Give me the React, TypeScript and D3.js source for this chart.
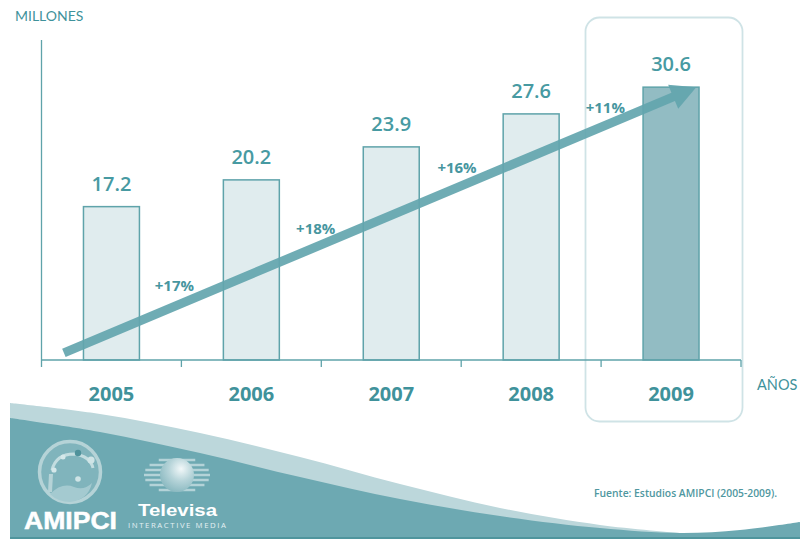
import React from "react";
import * as d3 from "d3";

const years = ["2005", "2006", "2007", "2008", "2009"];
const audience = [17.2, 20.2, 23.9, 27.6, 30.6];
const growthLabels = ["+17%", "+18%", "+16%", "+11%"];
const growthYears = [2005.45, 2006.46, 2007.47, 2008.53];
const growthLevels = [8.3, 14.8, 21.6, 28.3];
const trendYears = [2004.66, 2009.18];
const trendLevels = [0.8, 30.6];
const highlighted = "2009";

const TEAL = "#3f929b";
const AXIS = "#5fa3aa";
const BAND_DARK = "#6da9b2";
const BAND_LIGHT = "#bcd7db";

const width = 800;
const height = 539;

const x = d3.scaleBand<string>().domain(years).range([41.5, 741]).paddingInner(0.6).paddingOuter(0.3);
const tickStep = x.step();
const y = d3.scaleLinear().domain([0, 36]).range([360, 39]);
const yearX = d3.scaleLinear().domain([2005, 2009]).range([
  (x("2005") ?? 0) + x.bandwidth() / 2,
  (x("2009") ?? 0) + x.bandwidth() / 2,
]);

// Footer swoosh outlines.
const wave = d3.line<[number, number]>().curve(d3.curveCatmullRom.alpha(0.5));
const lightEdge: [number, number][] = [[10, 403], [100, 414], [200, 433], [300, 457], [400, 484], [500, 508], [600, 525], [680, 533]];
const darkEdge: [number, number][] = [[10, 418], [100, 432], [200, 453], [300, 477], [400, 499], [500, 516], [600, 528], [680, 533], [740, 530], [800, 522]];
const lightPath = `${wave(lightEdge)}L680,538L10,538Z`;
const darkPath = `${wave(darkEdge)}L800,538L10,538Z`;

const sans = "'Open Sans', sans-serif";

// Arrow drawn as one polygon along the trend between its two end points.
function trendArrow() {
  const x0 = yearX(trendYears[0]);
  const y0 = y(trendLevels[0]);
  const x1 = yearX(trendYears[1]);
  const y1 = y(trendLevels[1]);
  const len = Math.hypot(x1 - x0, y1 - y0);
  const ux = (x1 - x0) / len;
  const uy = (y1 - y0) / len;
  const nx = -uy;
  const ny = ux;
  const half = 4.5;
  const headLen = 25;
  const headHalf = 13;
  const bx = x1 - ux * headLen;
  const by = y1 - uy * headLen;
  const pts: [number, number][] = [
    [x0 + nx * half, y0 + ny * half],
    [bx + nx * half, by + ny * half],
    [bx + nx * headHalf, by + ny * headHalf],
    [x1, y1],
    [bx - nx * headHalf, by - ny * headHalf],
    [bx - nx * half, by - ny * half],
    [x0 - nx * half, y0 - ny * half],
  ];
  return pts.map((p) => p.join(",")).join(" ");
}

const stripeOffsets = d3.range(-15, 16, 5);

function AmipciLogo() {
  return (
    <g>
      <circle cx={70} cy={472} r={30.5} fill="#80b4bc" stroke="#b5d3d7" strokeWidth={3.5} />
      <path d="M50,494 Q62,482 74,487 Q84,491 92,483 Q88,500 70,502 Q58,502 50,494Z" fill="#a4cad0" />
      <path d="M52,470 Q56,454 74,454 Q90,456 93,468" fill="none" stroke="#c3dde0" strokeWidth={3} />
      <path d="M51,474 L50,492" stroke="#b5d3d7" strokeWidth={4} fill="none" />
      <circle cx={63} cy={457} r={2.5} fill="#d5e8ea" />
      <circle cx={78} cy={453} r={3.2} fill="#4f929b" />
      <circle cx={91} cy={460} r={3.6} fill="#cfe4e6" />
      <circle cx={54} cy={470} r={2.6} fill="#d5e8ea" />
      <circle cx={78} cy={479} r={2.8} fill="#cfe4e6" />
      <text x={24} y={529} fontFamily="'Liberation Sans', sans-serif" fontWeight={700} fontSize={24.5} fill="#fff" stroke="#fff" strokeWidth={0.5} textLength={93} lengthAdjust="spacingAndGlyphs">
        AMIPCI
      </text>
    </g>
  );
}

function TelevisaLogo() {
  return (
    <g>
      {stripeOffsets.map((d) => (
        <line
          key={d}
          x1={177 - 33 * Math.sqrt(1 - (d / 18) ** 2)}
          x2={177 + 33 * Math.sqrt(1 - (d / 18) ** 2)}
          y1={475 + d}
          y2={475 + d}
          stroke="#b4d3d8"
          strokeWidth={2.6}
        />
      ))}
      <circle cx={177} cy={475} r={17} fill="url(#globe)" />
      <text x={138} y={516} fontFamily="'Liberation Sans', sans-serif" fontWeight={700} fontSize={17} fill="#fff" textLength={79} lengthAdjust="spacingAndGlyphs">
        Televisa
      </text>
      <text x={128} y={528} fontFamily={sans} fontSize={7.8} fill="#e4f0f2" textLength={98} lengthAdjust="spacing">
        INTERACTIVE MEDIA
      </text>
    </g>
  );
}

export default function App() {
  return (
    <svg
      width={width}
      height={height}
      viewBox={`0 0 ${width} ${height}`}
      style={{ position: "absolute", left: 0, top: 0, display: "block", background: "#fff" }}
    >
      <defs>
        <radialGradient id="globe" cx="0.62" cy="0.32" r="0.8">
          <stop offset="0" stopColor="#f2f8f9" />
          <stop offset="0.45" stopColor="#b6d4d9" />
          <stop offset="1" stopColor="#7fb2ba" />
        </radialGradient>
      </defs>

      <text x={15} y={21} fontFamily="Lato, sans-serif" fontSize={14} fill={TEAL}>MILLONES</text>
      <text x={757} y={390} fontFamily="Lato, sans-serif" fontSize={14.5} fill={TEAL}>AÑOS</text>

      <rect x={585.5} y={17.5} width={157} height={404} rx={14} fill="#fff" stroke="#cfe3e6" strokeWidth={1.8} />

      {years.map((yr, i) => (
        <g key={yr}>
          <rect
            x={x(yr)}
            y={y(audience[i])}
            width={x.bandwidth()}
            height={y(0) - y(audience[i])}
            fill={yr === highlighted ? "#92bcc3" : "#e0ecee"}
            stroke={AXIS}
            strokeWidth={1.5}
          />
          <text
            x={(x(yr) ?? 0) + x.bandwidth() / 2}
            y={y(audience[i]) - 16}
            textAnchor="middle"
            fontFamily={sans}
            fontWeight={600}
            fontSize={20}
            fill="#479aa2"
          >
            {audience[i].toFixed(1)}
          </text>
          <text
            x={(x(yr) ?? 0) + x.bandwidth() / 2}
            y={401}
            textAnchor="middle"
            fontFamily={sans}
            fontWeight={700}
            fontSize={20}
            fill={TEAL}
          >
            {yr}
          </text>
        </g>
      ))}

      <line x1={41.5} x2={41.5} y1={40} y2={367} stroke={AXIS} strokeWidth={1.3} />
      <line x1={41.5} x2={741} y1={y(0)} y2={y(0)} stroke={AXIS} strokeWidth={1.5} />
      {d3.range(0, 5).map((i) => (
        <line
          key={i}
          x1={41.5 + (i + 1) * tickStep}
          x2={41.5 + (i + 1) * tickStep}
          y1={y(0)}
          y2={367}
          stroke={AXIS}
          strokeWidth={1.3}
        />
      ))}

      <polygon points={trendArrow()} fill="#63a5ae" fillOpacity={0.92} />

      {growthLabels.map((label, i) => (
        <text
          key={label}
          x={yearX(growthYears[i])}
          y={y(growthLevels[i]) + 5.5}
          textAnchor="middle"
          fontFamily={sans}
          fontWeight={700}
          fontSize={15}
          fill="#47969f"
        >
          {label}
        </text>
      ))}

      <path d={lightPath} fill={BAND_LIGHT} />
      <path d={darkPath} fill={BAND_DARK} />
      <rect x={10} y={537} width={790} height={2} fill="#4f959d" />

      <AmipciLogo />
      <TelevisaLogo />

      <text x={594} y={497} fontFamily={sans} fontWeight={600} fontSize={10.5} fill="#4f97a0" textLength={183} lengthAdjust="spacingAndGlyphs">
        Fuente: Estudios AMIPCI (2005-2009).
      </text>
    </svg>
  );
}
